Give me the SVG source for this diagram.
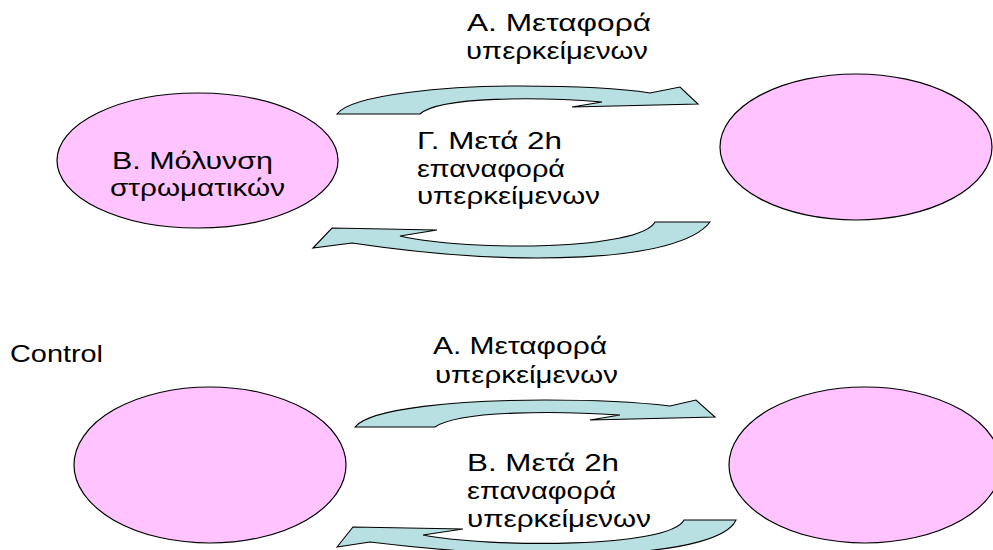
<svg xmlns="http://www.w3.org/2000/svg" width="993" height="550" viewBox="0 0 993 550">
<style>
.node ellipse{fill:#FFC4FF;stroke:#000;stroke-width:1.2}
.arrow{fill:#B8DFE1;stroke:#000;stroke-width:1.1;stroke-linejoin:miter}
text{font-family:"Liberation Sans",Arial,sans-serif;font-size:24px;fill:#000}
</style>
<rect width="993" height="550" fill="#fff"/>
<g id="connectors">
<path class="arrow" d="M 337,114 C 352,94 450,86 520,86 C 580,86 625,89 650,93 L 680,87 L 698,104 L 572,107 L 602,102 C 540,97 440,96 420,114 Z"/>
<path class="arrow" d="M 313,248 L 332,228 L 437,230 L 400,236 C 470,252 640,250 655,222 L 710,222 C 680,262 520,268 352,243 Z"/>
<path class="arrow" d="M 355,427 C 370,408 460,400 545,400 C 600,400 645,403 670,406 L 696,400 L 715,417 L 590,420 L 620,415 C 560,411 460,410 435,427 Z"/>
<path class="arrow" d="M 337,547 L 353,527 L 463,529 L 423,535 C 490,548 670,548 684,520 L 736,520 C 720,556 560,565 370,542 Z"/>
</g>
<g id="node-infection" class="node">
<ellipse cx="197.5" cy="160.5" rx="140.5" ry="67.5"/>
<text x="112" y="169" textLength="161" lengthAdjust="spacingAndGlyphs">Β. Μόλυνση</text>
<text x="110" y="196" textLength="175" lengthAdjust="spacingAndGlyphs">στρωματικών</text>
</g>
<g id="node-top-right" class="node">
<ellipse cx="856" cy="147" rx="136" ry="73"/>
</g>
<g id="node-bottom-left" class="node">
<ellipse cx="210" cy="465" rx="136" ry="78"/>
</g>
<g id="node-bottom-right" class="node">
<ellipse cx="865" cy="465" rx="136" ry="78"/>
</g>
<g id="labels">
<text x="467" y="31" textLength="184" lengthAdjust="spacingAndGlyphs">Α. Μεταφορά</text>
<text x="466" y="59" textLength="182" lengthAdjust="spacingAndGlyphs">υπερκείμενων</text>
<text x="417" y="149" textLength="145" lengthAdjust="spacingAndGlyphs">Γ. Μετά 2h</text>
<text x="417" y="177" textLength="148" lengthAdjust="spacingAndGlyphs">επαναφορά</text>
<text x="417" y="204" textLength="183" lengthAdjust="spacingAndGlyphs">υπερκείμενων</text>
<text x="10" y="362" textLength="93" lengthAdjust="spacingAndGlyphs">Control</text>
<text x="433" y="354" textLength="174" lengthAdjust="spacingAndGlyphs">Α. Μεταφορά</text>
<text x="435" y="383" textLength="183" lengthAdjust="spacingAndGlyphs">υπερκείμενων</text>
<text x="467" y="471" textLength="152" lengthAdjust="spacingAndGlyphs">Β. Μετά 2h</text>
<text x="467" y="499" textLength="149" lengthAdjust="spacingAndGlyphs">επαναφορά</text>
<text x="467" y="527" textLength="184" lengthAdjust="spacingAndGlyphs">υπερκείμενων</text>
</g>
</svg>
